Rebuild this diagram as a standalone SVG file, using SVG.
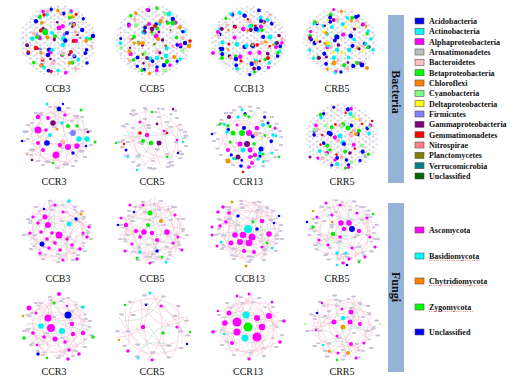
<svg xmlns="http://www.w3.org/2000/svg" xmlns:xlink="http://www.w3.org/1999/xlink" width="522" height="383" viewBox="0 0 522 383">
<style>
.lbl{font-family:"Liberation Serif",serif;font-size:10px;fill:#111;text-anchor:middle}
.lg{font-family:"Liberation Serif",serif;font-size:8px;font-weight:bold;fill:#111}
.bt{font-family:"Liberation Serif",serif;font-size:12px;font-weight:bold;fill:#111;text-anchor:middle}
.bar{fill:#95b3d7}
.sw{stroke:#555;stroke-width:0.6}
.ep{fill:none;stroke:#f5b5c8;stroke-width:0.5;opacity:.85}
.eg{fill:none;stroke:#a6d8c0;stroke-width:0.5;opacity:.85}
.sq{fill:none;stroke:#e03030;stroke-width:0.5;stroke-dasharray:1 0.8}
.b{fill:#0000ff}.c{fill:#00f0f0}.m{fill:#ff00ff}.g{fill:#00ee00}.o{fill:#f09a00}.p{fill:#800080}.r{fill:#ff0000}.k{fill:#ffb3b3}.y{fill:#ffff00}.f{fill:#8080ff}.l{fill:#80ff80}
</style>
<defs>
<pattern id="pA" width="7" height="5.2" patternUnits="userSpaceOnUse"><ellipse cx="2" cy="1.4" rx="1.4" ry="0.95" fill="#d3c8de"/><ellipse cx="5.5" cy="4" rx="1.3" ry="0.9" fill="#c6e2dc"/></pattern>
<pattern id="pB" width="9.4" height="6.6" patternUnits="userSpaceOnUse"><ellipse cx="7.5" cy="2.5" rx="1.3" ry="0.9" fill="#ecc9cf"/><ellipse cx="3" cy="5.6" rx="1.2" ry="0.85" fill="#cfd3ec"/></pattern>
<g id="s1"><circle cx="-20" cy="-18" r="2"/><circle cx="5" cy="-25" r="1.8"/><circle cx="22" cy="-10" r="2"/><circle cx="-28" cy="4" r="1.6"/><circle cx="-8" cy="8" r="2.2"/><circle cx="15" cy="14" r="1.8"/><circle cx="-15" cy="22" r="1.7"/><circle cx="26" cy="8" r="1.6"/></g>
<g id="s2"><circle cx="-10" cy="-27" r="1.7"/><circle cx="17" cy="-20" r="2"/><circle cx="-24" cy="-10" r="1.8"/><circle cx="2" cy="-5" r="2.3"/><circle cx="25" cy="-1" r="1.8"/><circle cx="-18" cy="15" r="2"/><circle cx="8" cy="26" r="1.7"/><circle cx="19" cy="19" r="1.6"/></g>
<g id="s3"><circle cx="-3" cy="-16" r="2"/><circle cx="12" cy="-6" r="1.8"/><circle cx="-14" cy="-2" r="1.9"/><circle cx="-29" cy="-7" r="1.5"/><circle cx="0" cy="17" r="2"/><circle cx="-24" cy="18" r="1.6"/><circle cx="27" cy="-12" r="1.7"/><circle cx="11" cy="5" r="2.1"/></g>
<g id="s4"><circle cx="-16" cy="-22" r="1.8"/><circle cx="21" cy="-19" r="1.7"/><circle cx="-6" cy="-3" r="2"/><circle cx="6" cy="12" r="1.9"/><circle cx="-30" cy="6" r="1.5"/><circle cx="-9" cy="28" r="1.6"/><circle cx="29" cy="4" r="1.7"/><circle cx="-20" cy="6" r="2"/></g>
<g id="s5"><circle cx="-19" cy="-14" r="1.8"/><circle cx="14" cy="-26" r="1.6"/><circle cx="-3" cy="24" r="1.9"/><circle cx="19" cy="-3" r="2"/><circle cx="-27" cy="12" r="1.6"/><circle cx="4" cy="3" r="1.9"/><circle cx="23" cy="15" r="1.8"/><circle cx="-8" cy="-10" r="1.9"/></g>
<g id="s6"><circle cx="-12" cy="-20" r="1.7"/><circle cx="0" cy="-30" r="1.5"/><circle cx="-25" cy="-16" r="1.6"/><circle cx="15" cy="-12" r="1.8"/><circle cx="-5" cy="14" r="1.9"/><circle cx="18" cy="25" r="1.5"/><circle cx="-14" cy="8" r="1.8"/><circle cx="28" cy="-4" r="1.6"/></g>
<g id="s7"><circle cx="7" cy="-21" r="1.7"/><circle cx="-27" cy="-2" r="1.8"/><circle cx="24" cy="-14" r="1.6"/><circle cx="-12" cy="19" r="1.7"/><circle cx="13" cy="22" r="1.8"/><circle cx="-2" cy="-10" r="1.9"/><circle cx="20" cy="5" r="1.7"/><circle cx="-17" cy="-8" r="1.6"/></g>
<g id="s8"><circle cx="-6" cy="-24" r="1.6"/><circle cx="12" cy="-13" r="1.7"/><circle cx="-18" cy="-22" r="1.6"/><circle cx="-23" cy="1" r="1.7"/><circle cx="8" cy="9" r="1.8"/><circle cx="-8" cy="20" r="1.6"/><circle cx="24" cy="18" r="1.6"/><circle cx="30" cy="-6" r="1.5"/></g>
<g id="p1" fill="#cbbfd9"><ellipse cx="-30" cy="-12" rx="2.4" ry="1.1"/><ellipse cx="-22" cy="-24" rx="2.4" ry="1.1"/><ellipse cx="-8" cy="-30" rx="2.4" ry="1.1"/><ellipse cx="10" cy="-29" rx="2.4" ry="1.1"/><ellipse cx="24" cy="-20" rx="2.4" ry="1.1"/><ellipse cx="32" cy="-6" rx="2.4" ry="1.1"/><ellipse cx="33" cy="8" rx="2.4" ry="1.1"/><ellipse cx="27" cy="20" rx="2.4" ry="1.1"/><ellipse cx="15" cy="29" rx="2.4" ry="1.1"/><ellipse cx="0" cy="31" rx="2.4" ry="1.1"/><ellipse cx="-15" cy="28" rx="2.4" ry="1.1"/><ellipse cx="-27" cy="18" rx="2.4" ry="1.1"/><ellipse cx="-34" cy="4" rx="2.4" ry="1.1"/></g>
<g id="p2" fill="#cbbfd9"><ellipse cx="-20" cy="-10" rx="2.4" ry="1.1"/><ellipse cx="-8" cy="-19" rx="2.4" ry="1.1"/><ellipse cx="6" cy="-21" rx="2.4" ry="1.1"/><ellipse cx="18" cy="-11" rx="2.4" ry="1.1"/><ellipse cx="23" cy="4" rx="2.4" ry="1.1"/><ellipse cx="14" cy="16" rx="2.4" ry="1.1"/><ellipse cx="0" cy="23" rx="2.4" ry="1.1"/><ellipse cx="-14" cy="17" rx="2.4" ry="1.1"/><ellipse cx="-25" cy="4" rx="2.4" ry="1.1"/></g>
<g id="p3" fill="#c9c6d6"><ellipse cx="-12" cy="-4" rx="2.4" ry="1.1"/><ellipse cx="4" cy="-10" rx="2.4" ry="1.1"/><ellipse cx="11" cy="6" rx="2.4" ry="1.1"/><ellipse cx="-4" cy="11" rx="2.4" ry="1.1"/><ellipse cx="-28" cy="-8" rx="2.4" ry="1.1"/><ellipse cx="-3" cy="-26" rx="2.4" ry="1.1"/><ellipse cx="20" cy="24" rx="2.4" ry="1.1"/><ellipse cx="26" cy="-14" rx="2.4" ry="1.1"/><ellipse cx="-18" cy="24" rx="2.4" ry="1.1"/><ellipse cx="30" cy="2" rx="2.4" ry="1.1"/><ellipse cx="-14" cy="-16" rx="2.4" ry="1.1"/><ellipse cx="17" cy="-24" rx="2.4" ry="1.1"/></g>
<g id="p4" fill="#d0c4dc"><ellipse cx="-35" cy="-4" rx="2.4" ry="1.1"/><ellipse cx="-28" cy="-18" rx="2.4" ry="1.1"/><ellipse cx="-15" cy="-28" rx="2.4" ry="1.1"/><ellipse cx="2" cy="-32" rx="2.4" ry="1.1"/><ellipse cx="18" cy="-26" rx="2.4" ry="1.1"/><ellipse cx="30" cy="-14" rx="2.4" ry="1.1"/><ellipse cx="35" cy="0" rx="2.4" ry="1.1"/><ellipse cx="30" cy="14" rx="2.4" ry="1.1"/><ellipse cx="20" cy="25" rx="2.4" ry="1.1"/><ellipse cx="6" cy="31" rx="2.4" ry="1.1"/><ellipse cx="-8" cy="30" rx="2.4" ry="1.1"/><ellipse cx="-22" cy="24" rx="2.4" ry="1.1"/><ellipse cx="-32" cy="12" rx="2.4" ry="1.1"/></g>
<g id="e1" class="ep"><path d="M-30,-10Q0,-40 28,-12"/><path d="M-25,15Q-5,-5 20,20"/><path d="M-10,-28Q20,0 5,30"/><path d="M-32,2Q-10,20 10,28"/><path d="M15,-25Q30,5 25,20"/><path d="M-20,-20Q0,10 -28,20"/><path d="M0,-20Q25,-15 30,5"/><path d="M-15,5Q5,25 25,5"/></g>
<g id="e2" class="eg"><path d="M-28,-15Q-5,0 -10,25"/><path d="M10,-28Q-10,-10 15,10"/><path d="M20,-15Q5,15 28,18"/><path d="M-5,5Q15,-5 30,-8"/></g>
</defs>
<rect width="522" height="383" fill="#ffffff"/>

<!-- Row 1: bacteria CC B -->
<g id="bac-CCB3">
<ellipse cx="58" cy="41" rx="38" ry="36" fill="url(#pA)"/><ellipse cx="58" cy="41" rx="37" ry="35" fill="url(#pB)"/>
<use href="#s1" fill="#0000ff" transform="translate(58,41) scale(1.1)"/>
<use href="#s2" fill="#00f0f0" transform="translate(58,41) rotate(45) scale(1.1)"/>
<use href="#s3" fill="#ff00ff" transform="translate(58,41) rotate(100) scale(1.1)"/>
<use href="#s4" fill="#0000ff" transform="translate(58,41) rotate(150) scale(1.1)"/>
<use href="#s5" fill="#00ee00" transform="translate(58,41) rotate(200) scale(1.1)"/>
<use href="#s6" fill="#ff0000" transform="translate(58,41) rotate(250) scale(1.05)"/>
<use href="#s7" fill="#f09a00" transform="translate(58,41) rotate(300) scale(1.1)"/>
<use href="#s8" fill="#ffb3b3" transform="translate(58,41) rotate(20) scale(1.1)"/>
<use href="#s1" fill="#8080ff" transform="translate(58,41) rotate(180) scale(0.8)"/>
<use href="#s2" fill="#800080" transform="translate(58,41) rotate(270) scale(0.75)"/>
<circle class="g" cx="45" cy="32" r="3"/><circle class="m" cx="59" cy="28" r="2.4"/><circle class="b" cx="67" cy="33" r="2"/><circle class="c" cx="52" cy="33" r="2"/><circle class="c" cx="63" cy="45" r="2.4"/><circle class="r" cx="36" cy="48" r="2.3"/><circle class="c" cx="52" cy="50" r="2"/><circle class="p" cx="27" cy="45" r="1.8"/><circle class="b" cx="48" cy="55" r="2.3"/><circle class="k" cx="53" cy="63" r="2.3"/><circle class="b" cx="93" cy="36" r="2.2"/><circle class="b" cx="87" cy="63" r="1.8"/><circle class="y" cx="70" cy="15" r="1.6"/><circle class="o" cx="73" cy="17" r="1.8"/>
</g>
<g id="bac-CCB5">
<ellipse cx="153" cy="41" rx="38" ry="36" fill="url(#pA)"/><ellipse cx="153" cy="41" rx="37" ry="35" fill="url(#pB)"/>
<use href="#s1" fill="#0000ff" transform="translate(153,41) rotate(90) scale(1.1)"/>
<use href="#s2" fill="#ff00ff" transform="translate(153,41) rotate(10) scale(1.1)"/>
<use href="#s3" fill="#00f0f0" transform="translate(153,41) rotate(200) scale(1.1)"/>
<use href="#s4" fill="#80ff80" transform="translate(153,41) rotate(60) scale(1.1)"/>
<use href="#s5" fill="#f09a00" transform="translate(153,41) rotate(300) scale(1.1)"/>
<use href="#s6" fill="#0000ff" transform="translate(153,41) rotate(130) scale(1.05)"/>
<use href="#s7" fill="#ffb3b3" transform="translate(153,41) rotate(170) scale(1.1)"/>
<use href="#s8" fill="#00ee00" transform="translate(153,41) rotate(240) scale(1.1)"/>
<use href="#s3" fill="#800080" transform="translate(153,41) rotate(330) scale(0.8)"/>
<use href="#s5" fill="#808000" transform="translate(153,41) rotate(30) scale(0.7)"/>
<circle class="c" cx="169" cy="14" r="2.4"/><circle class="g" cx="173" cy="23" r="2.4"/><circle class="g" cx="168" cy="23" r="2"/><circle class="p" cx="152" cy="29" r="2.4"/><circle class="m" cx="149" cy="24" r="2"/><circle class="r" cx="155" cy="26" r="1.9"/><circle class="o" cx="143" cy="43" r="2"/><circle class="o" cx="134" cy="43" r="1.8"/><circle class="o" cx="189" cy="46" r="2.4"/><circle class="b" cx="185" cy="43" r="2.2"/><circle class="r" cx="190" cy="41" r="1.8"/><circle class="c" cx="157" cy="58" r="2.2"/><circle class="c" cx="166" cy="56" r="2.4"/><circle class="g" cx="167" cy="61" r="2"/><circle class="p" cx="147" cy="58" r="1.9"/><circle class="b" cx="157" cy="67" r="1.8"/>
</g>
<g id="bac-CCB13">
<ellipse cx="249" cy="41" rx="38" ry="35" fill="url(#pA)"/><ellipse cx="249" cy="41" rx="37" ry="34" fill="url(#pB)"/>
<use href="#s1" fill="#00f0f0" transform="translate(249,41) rotate(30) scale(1.1)"/>
<use href="#s2" fill="#0000ff" transform="translate(249,41) rotate(120) scale(1.1)"/>
<use href="#s3" fill="#ff00ff" transform="translate(249,41) rotate(220) scale(1.1)"/>
<use href="#s4" fill="#0000ff" transform="translate(249,41) rotate(280) scale(1.1)"/>
<use href="#s5" fill="#00f0f0" transform="translate(249,41) rotate(80) scale(1.1)"/>
<use href="#s6" fill="#00ee00" transform="translate(249,41) rotate(170) scale(1.05)"/>
<use href="#s7" fill="#800080" transform="translate(249,41) rotate(20) scale(1.1)"/>
<use href="#s8" fill="#ffb3b3" transform="translate(249,41) rotate(320) scale(1.1)"/>
<use href="#s1" fill="#ff0000" transform="translate(249,41) rotate(250) scale(0.8)"/>
<use href="#s4" fill="#f09a00" transform="translate(249,41) rotate(200) scale(0.8)"/>
<circle class="b" cx="256" cy="29" r="2.5"/><circle class="c" cx="270" cy="37" r="2.5"/><circle class="b" cx="261" cy="21" r="2"/><circle class="c" cx="250" cy="26" r="2"/><circle class="g" cx="222" cy="58" r="2"/><circle class="m" cx="213" cy="53" r="2"/><circle class="b" cx="236" cy="59" r="2.3"/><circle class="m" cx="250" cy="53" r="2"/><circle class="r" cx="268" cy="58" r="2"/><circle class="p" cx="277" cy="43" r="2"/><circle class="b" cx="222" cy="49" r="2.3"/><circle class="m" cx="276" cy="47" r="2"/>
</g>
<g id="bac-CRB5">
<ellipse cx="340" cy="41" rx="37" ry="33" fill="url(#pA)"/><ellipse cx="340" cy="41" rx="36" ry="32" fill="url(#pB)"/>
<use href="#s1" fill="#0000ff" transform="translate(340,41) rotate(200) scale(1.05)"/>
<use href="#s2" fill="#00ee00" transform="translate(340,41) rotate(300) scale(1.05)"/>
<use href="#s3" fill="#00f0f0" transform="translate(340,41) rotate(20) scale(1.05)"/>
<use href="#s4" fill="#ff00ff" transform="translate(340,41) rotate(90) scale(1.05)"/>
<use href="#s5" fill="#0000ff" transform="translate(340,41) rotate(150) scale(1.05)"/>
<use href="#s6" fill="#f09a00" transform="translate(340,41) rotate(60)"/>
<use href="#s7" fill="#ffb3b3" transform="translate(340,41) rotate(250) scale(1.05)"/>
<use href="#s8" fill="#00f0f0" transform="translate(340,41) rotate(110) scale(1.05)"/>
<use href="#s2" fill="#800080" transform="translate(340,41) rotate(180) scale(0.8)"/>
<use href="#s6" fill="#ffff00" transform="translate(340,41) rotate(330) scale(0.8)"/>
<circle class="b" cx="337" cy="37" r="2.5"/><circle class="c" cx="332" cy="27" r="2"/><circle class="b" cx="356" cy="17" r="2"/><circle class="g" cx="315" cy="22" r="1.8"/><circle class="p" cx="310" cy="38" r="2"/><circle class="y" cx="328" cy="43" r="2"/><circle class="o" cx="334" cy="63" r="2.4"/><circle class="b" cx="362" cy="65" r="2.4"/><circle class="o" cx="367" cy="68" r="2"/><circle class="p" cx="319" cy="58" r="2"/><circle class="c" cx="337" cy="50" r="2.2"/><circle class="g" cx="357" cy="63" r="2"/><circle class="c" cx="373" cy="50" r="1.8"/>
</g>

<!-- Row 2: bacteria CC R -->
<g id="bac-CCR3">
<use href="#e1" transform="translate(58,137)"/><use href="#e1" transform="translate(58,137) rotate(120)"/><use href="#e1" transform="translate(58,137) rotate(240)"/><use href="#e2" transform="translate(58,137) rotate(60)"/>
<use href="#p1" transform="translate(58,137)"/><use href="#p3" transform="translate(58,137) scale(-1,1)"/><use href="#p2" transform="translate(58,137) scale(1.3,-1.3)"/>
<circle class="m" cx="38" cy="130" r="3.5"/><circle class="m" cx="56" cy="155" r="3.5"/><circle class="m" cx="68" cy="147" r="3"/><circle class="m" cx="77" cy="146" r="2.7"/><circle class="m" cx="38" cy="117" r="2.3"/><circle class="m" cx="48" cy="118" r="2"/><circle class="m" cx="65" cy="115" r="1.8"/><circle class="m" cx="38" cy="143" r="2"/><circle class="m" cx="43" cy="150" r="2"/><circle class="m" cx="60" cy="145" r="2.2"/><circle class="m" cx="46" cy="130" r="1.8"/>
<circle class="p" cx="53" cy="123" r="2.8"/><circle class="b" cx="47" cy="143" r="2.8"/><circle class="b" cx="59" cy="109" r="2.3"/><circle class="b" cx="73" cy="153" r="1.8"/><circle class="b" cx="22" cy="141" r="1.3"/><circle class="b" cx="63" cy="104" r="1.2"/><circle class="f" cx="73" cy="133" r="3"/><circle class="c" cx="79" cy="139" r="2.8"/><circle class="c" cx="87" cy="139" r="2.8"/><circle class="c" cx="50" cy="135" r="2"/><circle class="c" cx="62" cy="123" r="1.8"/><circle class="c" cx="47" cy="104" r="1.5"/><circle class="k" cx="63" cy="142" r="2.5"/><circle class="k" cx="27" cy="154" r="1.8"/><circle class="o" cx="57" cy="129" r="1.5"/><circle class="g" cx="68" cy="126" r="2"/><circle class="g" cx="81" cy="110" r="1.5"/><circle class="g" cx="77" cy="126" r="1.8"/><circle class="g" cx="95" cy="142" r="1.5"/><circle class="g" cx="53" cy="163" r="1.3"/><circle class="b" cx="86" cy="146" r="1.3"/><circle class="p" cx="32" cy="160" r="1.3"/><circle class="p" cx="88" cy="132" r="1.3"/>
</g>
<g id="bac-CCR5">
<use href="#e1" transform="translate(153,138) rotate(30)"/><use href="#e2" transform="translate(153,138) rotate(200)"/><use href="#e1" transform="translate(153,138) rotate(190) scale(0.8)"/>
<use href="#p1" transform="translate(153,138)"/><use href="#p2" transform="translate(153,138)"/><use href="#p3" transform="translate(153,138) scale(-1,1)"/><use href="#p4" transform="translate(153,138) scale(0.9,-0.95)"/><use href="#p3" transform="translate(153,138) scale(1.1,-1.15)"/>
<circle class="m" cx="147" cy="135" r="2.2"/><circle class="g" cx="143" cy="141" r="2"/><circle class="g" cx="151" cy="143" r="2.3"/><circle class="p" cx="159" cy="143" r="2.5"/><circle class="r" cx="140" cy="133" r="1.8"/><circle class="r" cx="124" cy="144" r="1.2"/><circle class="b" cx="126" cy="150" r="1.5"/><circle class="b" cx="178" cy="153" r="1.2"/><circle class="m" cx="140" cy="122" r="1.5"/><circle class="m" cx="164" cy="131" r="1.3"/><circle class="m" cx="177" cy="140" r="1.3"/><circle class="p" cx="157" cy="124" r="1.4"/><circle class="p" cx="173" cy="109" r="1.2"/><circle class="g" cx="152" cy="112" r="1.3"/><circle class="g" cx="116" cy="143" r="1.3"/><circle class="g" cx="167" cy="157" r="1.3"/><circle class="c" cx="137" cy="170" r="1.3"/><circle class="c" cx="183" cy="142" r="1.3"/><circle class="c" cx="128" cy="157" r="1.3"/><circle class="r" cx="167" cy="133" r="1.2"/>
</g>
<g id="bac-CCR13">
<use href="#e1" transform="translate(248,137) rotate(90)"/><use href="#e2" transform="translate(248,137)"/><use href="#e1" transform="translate(248,137) rotate(210) scale(0.9)"/>
<use href="#p1" transform="translate(248,137)"/><use href="#p3" transform="translate(248,137) scale(-1,1)"/><use href="#p4" transform="translate(248,137) scale(0.95)"/>
<use href="#s2" fill="#0000ff" transform="translate(248,137) rotate(60) scale(0.9)"/><use href="#s7" fill="#00ee00" transform="translate(248,137) rotate(150) scale(0.9)"/><use href="#s4" fill="#00f0f0" transform="translate(248,137) rotate(250) scale(0.95)"/>
<circle class="g" cx="242" cy="133" r="3"/><circle class="g" cx="233" cy="133" r="2.5"/><circle class="m" cx="249" cy="133" r="3"/><circle class="p" cx="247" cy="144" r="3"/><circle class="m" cx="240" cy="144" r="2.5"/><circle class="c" cx="243" cy="150" r="2.5"/><circle class="m" cx="250" cy="150" r="2.5"/><circle class="b" cx="261" cy="149" r="2.5"/><circle class="k" cx="256" cy="134" r="2.5"/><circle class="m" cx="257" cy="128" r="2.3"/><circle class="p" cx="229" cy="117" r="2"/><circle class="c" cx="238" cy="117" r="1.8"/><circle class="g" cx="245" cy="115" r="1.5"/><circle class="c" cx="263" cy="125" r="2"/><circle class="b" cx="268" cy="123" r="1.5"/><circle class="b" cx="244" cy="128" r="2"/><circle class="c" cx="227" cy="132" r="1.8"/><circle class="g" cx="220" cy="124" r="1.5"/><circle class="b" cx="212" cy="134" r="1.3"/><circle class="m" cx="228" cy="150" r="2"/><circle class="p" cx="238" cy="157" r="2.5"/><circle class="o" cx="228" cy="161" r="2.5"/><circle class="m" cx="250" cy="157" r="2"/><circle class="m" cx="252" cy="163" r="2"/><circle class="c" cx="258" cy="159" r="1.8"/><circle class="g" cx="263" cy="154" r="1.5"/><circle class="c" cx="272" cy="153" r="1.5"/><circle class="g" cx="279" cy="157" r="1.3"/><circle class="c" cx="273" cy="135" r="1.8"/><circle class="b" cx="241" cy="166" r="1.8"/><circle class="m" cx="249" cy="167" r="1.8"/><circle class="r" cx="243" cy="172" r="1.3"/><circle class="m" cx="275" cy="128" r="1.5"/><circle class="m" cx="237" cy="125" r="1.5"/><circle class="m" cx="255" cy="155" r="2.3"/>
</g>
<g id="bac-CRR5">
<ellipse cx="342" cy="137" rx="37" ry="34" fill="url(#pA)"/><ellipse cx="342" cy="137" rx="35" ry="32" fill="url(#pB)" opacity="0.7"/>
<use href="#e1" transform="translate(342,137) rotate(45)" opacity="0.6"/>
<use href="#s1" fill="#0000ff" transform="translate(342,137) rotate(60) scale(1.05)"/>
<use href="#s2" fill="#00f0f0" transform="translate(342,137) rotate(150) scale(1.05)"/>
<use href="#s3" fill="#00ee00" transform="translate(342,137) rotate(250) scale(1.05)"/>
<use href="#s4" fill="#ff00ff" transform="translate(342,137) rotate(330) scale(1.05)"/>
<use href="#s5" fill="#ffb3b3" transform="translate(342,137) rotate(100) scale(1.05)"/>
<use href="#s6" fill="#0000ff" transform="translate(342,137) rotate(200)"/>
<use href="#s7" fill="#80ff80" transform="translate(342,137) rotate(10) scale(1.05)"/>
<use href="#s8" fill="#ff0000" transform="translate(342,137) rotate(290) scale(0.8)"/>
<circle class="g" cx="348" cy="128" r="2.5"/><circle class="k" cx="351" cy="135" r="2.5"/><circle class="c" cx="340" cy="136" r="2.5"/><circle class="b" cx="329" cy="133" r="2.3"/><circle class="o" cx="356" cy="134" r="2"/><circle class="b" cx="344" cy="144" r="2"/><circle class="g" cx="330" cy="150" r="1.8"/><circle class="k" cx="340" cy="125" r="2"/><circle class="p" cx="350" cy="153" r="1.8"/><circle class="m" cx="335" cy="160" r="1.8"/><circle class="y" cx="356" cy="119" r="1.5"/><circle class="r" cx="372" cy="121" r="1.3"/><circle class="p" cx="310" cy="157" r="1.5"/>
</g>

<!-- Row 3: fungi CC B -->
<g id="fun-CCB3">
<use href="#e1" transform="translate(58,231)"/><use href="#e1" transform="translate(58,231) rotate(90)"/><use href="#e1" transform="translate(58,231) rotate(180)"/><use href="#e1" transform="translate(58,231) rotate(270)"/><use href="#e2" transform="translate(58,231) rotate(45)"/><use href="#e2" transform="translate(58,231) rotate(225)"/>
<use href="#p1" transform="translate(58,231)"/><use href="#p2" transform="translate(58,231) scale(-1,1)"/><use href="#p3" transform="translate(58,231)"/><use href="#p4" transform="translate(58,231) scale(0.85,-0.85)"/>
<circle class="m" cx="45" cy="217" r="2.5"/><circle class="m" cx="48" cy="225" r="3"/><circle class="m" cx="59" cy="235" r="3.5"/><circle class="b" cx="42" cy="244" r="2.5"/><circle class="c" cx="69" cy="224" r="2.5"/><circle class="b" cx="76" cy="219" r="1.7"/><circle class="c" cx="69" cy="201" r="1.7"/><circle class="o" cx="81" cy="214" r="1.5"/><circle class="b" cx="44" cy="209" r="1.3"/>
<circle class="m" cx="38" cy="223" r="1.8"/><circle class="m" cx="41" cy="232" r="1.8"/><circle class="m" cx="52" cy="233" r="1.8"/><circle class="m" cx="47" cy="239" r="1.8"/><circle class="m" cx="55" cy="243" r="1.8"/><circle class="m" cx="67" cy="239" r="1.8"/><circle class="m" cx="72" cy="245" r="1.8"/><circle class="m" cx="80" cy="249" r="1.8"/><circle class="m" cx="87" cy="237" r="1.8"/><circle class="m" cx="89" cy="227" r="1.6"/><circle class="m" cx="49" cy="248" r="1.8"/><circle class="m" cx="60" cy="250" r="1.8"/><circle class="m" cx="77" cy="259" r="1.8"/><circle class="m" cx="63" cy="260" r="1.6"/><circle class="m" cx="40" cy="253" r="1.6"/><circle class="m" cx="33" cy="217" r="1.6"/><circle class="m" cx="30" cy="233" r="1.6"/><circle class="m" cx="55" cy="205" r="1.6"/><circle class="m" cx="63" cy="212" r="1.6"/><circle class="m" cx="83" cy="233" r="1.6"/>
</g>
<g id="fun-CCB5">
<use href="#e1" transform="translate(153,231) rotate(30)"/><use href="#e1" transform="translate(153,231) rotate(130)"/><use href="#e1" transform="translate(153,231) rotate(230)"/><use href="#e1" transform="translate(153,231) rotate(320)"/><use href="#e2" transform="translate(153,231) rotate(100)"/><use href="#e2" transform="translate(153,231) rotate(280)"/>
<use href="#p1" transform="translate(153,231) scale(-1,1)"/><use href="#p2" transform="translate(153,231)"/><use href="#p3" transform="translate(153,231) scale(1,-1)"/><use href="#p4" transform="translate(153,231) scale(0.85)"/>
<circle class="g" cx="150" cy="213" r="2.5"/><circle class="g" cx="148" cy="225" r="2"/><circle class="o" cx="161" cy="221" r="2"/><circle class="m" cx="144" cy="232" r="2.8"/><circle class="m" cx="152" cy="233" r="2.3"/><circle class="m" cx="167" cy="232" r="2.8"/><circle class="m" cx="126" cy="225" r="2.2"/><circle class="m" cx="136" cy="231" r="2"/><circle class="m" cx="157" cy="240" r="2"/><circle class="m" cx="140" cy="237" r="1.8"/><circle class="m" cx="121" cy="218" r="1.6"/><circle class="m" cx="175" cy="215" r="1.6"/>
<circle class="b" cx="118" cy="225" r="1.3"/><circle class="b" cx="134" cy="212" r="1.3"/><circle class="b" cx="157" cy="251" r="1.8"/><circle class="c" cx="140" cy="252" r="1.8"/><circle class="c" cx="166" cy="262" r="1.5"/><circle class="g" cx="137" cy="258" r="1.5"/><circle class="g" cx="162" cy="257" r="1.5"/>
<circle class="m" cx="125" cy="251" r="1.6"/><circle class="m" cx="132" cy="244" r="1.6"/><circle class="m" cx="173" cy="243" r="1.6"/><circle class="m" cx="178" cy="237" r="1.6"/><circle class="m" cx="182" cy="250" r="1.6"/><circle class="m" cx="150" cy="263" r="1.6"/><circle class="m" cx="143" cy="205" r="1.6"/><circle class="m" cx="130" cy="205" r="1.6"/>
</g>
<g id="fun-CCB13">
<use href="#e1" transform="translate(249,231) rotate(60)"/><use href="#e1" transform="translate(249,231) rotate(150)"/><use href="#e1" transform="translate(249,231) rotate(250)"/><use href="#e1" transform="translate(249,231) rotate(340)"/><use href="#e2" transform="translate(249,231) rotate(10)"/><use href="#e2" transform="translate(249,231) rotate(190)"/>
<use href="#p1" transform="translate(249,231)"/><use href="#p2" transform="translate(249,231) scale(-1.1,1.1)"/><use href="#p3" transform="translate(249,231) scale(-1,-1)"/><use href="#p4" transform="translate(249,231) scale(0.9,-0.9)"/>
<circle class="c" cx="248" cy="229" r="4"/><circle class="m" cx="243" cy="235" r="3.3"/><circle class="m" cx="252" cy="237" r="3.5"/><circle class="m" cx="249" cy="243" r="3.3"/><circle class="m" cx="240" cy="242" r="3"/><circle class="m" cx="235" cy="235" r="2.8"/><circle class="m" cx="231" cy="243" r="2.5"/><circle class="m" cx="262" cy="221" r="2.3"/><circle class="m" cx="269" cy="234" r="2.8"/><circle class="m" cx="254" cy="252" r="2"/><circle class="m" cx="244" cy="251" r="2"/>
<circle class="m" cx="223" cy="207" r="1.8"/><circle class="m" cx="218" cy="212" r="1.8"/><circle class="m" cx="229" cy="213" r="1.8"/><circle class="m" cx="226" cy="222" r="1.8"/><circle class="m" cx="220" cy="226" r="1.8"/><circle class="m" cx="212" cy="227" r="1.5"/><circle class="m" cx="212" cy="235" r="1.5"/><circle class="m" cx="217" cy="246" r="1.5"/><circle class="m" cx="262" cy="247" r="1.5"/>
<circle class="b" cx="238" cy="216" r="1.8"/><circle class="b" cx="257" cy="229" r="1.8"/><circle class="b" cx="274" cy="223" r="1.3"/><circle class="b" cx="279" cy="216" r="1.3"/><circle class="g" cx="253" cy="222" r="1.5"/><circle class="g" cx="267" cy="243" r="1.5"/><circle class="c" cx="221" cy="242" r="1.5"/><circle class="c" cx="272" cy="248" r="1.3"/><circle class="o" cx="232" cy="202" r="1.5"/><circle class="o" cx="246" cy="266" r="1.5"/>
</g>
<g id="fun-CRB5">
<use href="#e1" transform="translate(344,231) rotate(15)"/><use href="#e1" transform="translate(344,231) rotate(105)"/><use href="#e1" transform="translate(344,231) rotate(200)" opacity="0.7"/><use href="#e2" transform="translate(344,231) rotate(300)"/><use href="#e2" transform="translate(344,231) rotate(120)"/>
<use href="#p1" transform="translate(344,231) scale(1.02)"/><use href="#p2" transform="translate(344,231)"/><use href="#p3" transform="translate(344,231)"/><use href="#p4" transform="translate(344,231) scale(-0.85,0.9)"/><use href="#p3" transform="translate(344,231) scale(-1.1,-1)"/>
<circle class="b" cx="352" cy="229" r="3"/><circle class="m" cx="341" cy="223" r="2.8"/><circle class="m" cx="349" cy="223" r="2.8"/><circle class="m" cx="344" cy="229" r="2.2"/><circle class="m" cx="359" cy="231" r="2.2"/><circle class="m" cx="340" cy="237" r="1.8"/><circle class="g" cx="333" cy="234" r="2.2"/><circle class="g" cx="313" cy="227" r="1.8"/><circle class="g" cx="373" cy="214" r="1.3"/><circle class="g" cx="359" cy="262" r="1.3"/><circle class="b" cx="307" cy="222" r="1.3"/><circle class="b" cx="347" cy="265" r="1.3"/><circle class="c" cx="337" cy="253" r="1.8"/><circle class="c" cx="346" cy="253" r="1.5"/><circle class="c" cx="337" cy="265" r="1.3"/><circle class="o" cx="313" cy="211" r="1.3"/><circle class="o" cx="332" cy="222" r="1.3"/>
<circle class="m" cx="326" cy="203" r="1.6"/><circle class="m" cx="340" cy="205" r="1.6"/><circle class="m" cx="317" cy="217" r="1.6"/><circle class="m" cx="332" cy="215" r="1.6"/><circle class="m" cx="357" cy="213" r="1.6"/><circle class="m" cx="367" cy="218" r="1.6"/><circle class="m" cx="370" cy="237" r="1.6"/><circle class="m" cx="375" cy="247" r="1.6"/><circle class="m" cx="365" cy="257" r="1.6"/><circle class="m" cx="352" cy="248" r="1.6"/><circle class="m" cx="328" cy="245" r="1.6"/><circle class="m" cx="319" cy="240" r="1.6"/><circle class="m" cx="349" cy="259" r="1.6"/><circle class="m" cx="343" cy="263" r="1.6"/>
</g>

<!-- Row 4: fungi CC R -->
<g id="fun-CCR3">
<use href="#e1" transform="translate(58,327)"/><use href="#e1" transform="translate(58,327) rotate(90)"/><use href="#e1" transform="translate(58,327) rotate(180)"/><use href="#e1" transform="translate(58,327) rotate(270)"/><use href="#e2" transform="translate(58,327) rotate(150)"/><use href="#e2" transform="translate(58,327) rotate(330)"/>
<use href="#p1" transform="translate(58,327)"/><use href="#p3" transform="translate(58,327) scale(-1,1)"/><use href="#p4" transform="translate(58,327) scale(0.9,-0.9)"/>
<circle class="m" cx="51" cy="328" r="4"/><circle class="m" cx="48" cy="318" r="3.5"/><circle class="b" cx="68" cy="315" r="3.5"/><circle class="c" cx="62" cy="331" r="3"/><circle class="c" cx="41" cy="326" r="2.8"/><circle class="m" cx="29" cy="308" r="2.5"/><circle class="m" cx="59" cy="294" r="2"/><circle class="m" cx="55" cy="339" r="2.5"/><circle class="m" cx="72" cy="324" r="2.2"/><circle class="m" cx="73" cy="334" r="2.2"/><circle class="m" cx="83" cy="333" r="2.2"/><circle class="m" cx="65" cy="342" r="1.8"/><circle class="m" cx="69" cy="350" r="1.8"/><circle class="m" cx="79" cy="354" r="1.8"/><circle class="m" cx="68" cy="359" r="1.8"/><circle class="m" cx="33" cy="333" r="1.8"/><circle class="m" cx="44" cy="337" r="1.8"/><circle class="m" cx="37" cy="345" r="1.3"/><circle class="m" cx="67" cy="306" r="1.3"/><circle class="m" cx="36" cy="313" r="1.5"/>
<circle class="g" cx="54" cy="303" r="1.5"/><circle class="g" cx="24" cy="338" r="1.8"/><circle class="g" cx="93" cy="337" r="1.8"/><circle class="g" cx="47" cy="358" r="1.3"/><circle class="b" cx="38" cy="354" r="1.8"/><circle class="c" cx="83" cy="307" r="1.8"/><circle class="o" cx="23" cy="316" r="1.3"/>
</g>
<g id="fun-CCR5">
<use href="#e1" transform="translate(153,327) rotate(20) scale(1.1)"/><use href="#e1" transform="translate(153,327) rotate(200) scale(1.05)"/><use href="#e2" transform="translate(153,327) rotate(80) scale(1.1)"/>
<use href="#p1" transform="translate(153,327) scale(1.05)"/><use href="#p2" transform="translate(153,327) scale(-1.1,1.1)"/>
<circle class="m" cx="143" cy="327" r="2.2"/><circle class="m" cx="128" cy="351" r="1.8"/><circle class="m" cx="152" cy="360" r="1.6"/><circle class="m" cx="161" cy="306" r="1.6"/><circle class="m" cx="177" cy="327" r="1.6"/><circle class="g" cx="163" cy="333" r="1.8"/><circle class="g" cx="125" cy="305" r="1.3"/><circle class="g" cx="190" cy="332" r="1.2"/><circle class="c" cx="150" cy="293" r="1.5"/><circle class="c" cx="138" cy="358" r="1.3"/><circle class="b" cx="146" cy="305" r="1.2"/><circle class="b" cx="187" cy="344" r="1.2"/><circle class="o" cx="119" cy="340" r="1.3"/>
</g>
<g id="fun-CCR13">
<use href="#e1" transform="translate(249,327) rotate(10)"/><use href="#e1" transform="translate(249,327) rotate(100)"/><use href="#e1" transform="translate(249,327) rotate(190)"/><use href="#e1" transform="translate(249,327) rotate(280)"/><use href="#e2" transform="translate(249,327) rotate(240)"/>
<use href="#p1" transform="translate(249,327)"/><use href="#p4" transform="translate(249,327) scale(0.8,-0.8)"/>
<circle class="g" cx="248" cy="327" r="4.5"/><circle class="m" cx="237" cy="322" r="4.5"/><circle class="m" cx="257" cy="337" r="4.5"/><circle class="c" cx="246" cy="315" r="3.5"/><circle class="c" cx="245" cy="338" r="3.5"/><circle class="m" cx="237" cy="332" r="3.5"/><circle class="m" cx="262" cy="327" r="3.3"/><circle class="m" cx="257" cy="318" r="3"/><circle class="m" cx="269" cy="316" r="3"/><circle class="m" cx="225" cy="323" r="2.8"/><circle class="m" cx="229" cy="313" r="2.5"/><circle class="m" cx="232" cy="343" r="2"/><circle class="m" cx="213" cy="332" r="1.8"/><circle class="m" cx="284" cy="321" r="1.8"/><circle class="m" cx="280" cy="342" r="1.8"/><circle class="m" cx="237" cy="296" r="1.5"/><circle class="m" cx="249" cy="294" r="1.5"/><circle class="m" cx="272" cy="302" r="1.5"/><circle class="m" cx="249" cy="359" r="1.5"/><circle class="m" cx="218" cy="311" r="1.3"/><circle class="c" cx="224" cy="334" r="1.3"/>
</g>
<g id="fun-CRR5">
<use href="#e1" transform="translate(343,327) rotate(40)"/><use href="#e1" transform="translate(343,327) rotate(160)"/><use href="#e1" transform="translate(343,327) rotate(280)" opacity="0.8"/><use href="#e2" transform="translate(343,327) rotate(90)"/><use href="#e2" transform="translate(343,327) rotate(330)"/>
<use href="#p1" transform="translate(343,327) scale(1.05)"/><use href="#p2" transform="translate(343,327) scale(-1,1)"/><use href="#p3" transform="translate(343,327)"/><use href="#p4" transform="translate(343,327) scale(0.88,-0.9)"/>
<circle class="m" cx="351" cy="312" r="2.5"/><circle class="m" cx="350" cy="322" r="2.5"/><circle class="m" cx="334" cy="322" r="2.5"/><circle class="m" cx="360" cy="324" r="2"/><circle class="m" cx="342" cy="309" r="1.5"/><circle class="m" cx="337" cy="336" r="1.5"/><circle class="m" cx="351" cy="344" r="2"/><circle class="m" cx="364" cy="343" r="1.5"/><circle class="m" cx="356" cy="358" r="1.5"/><circle class="m" cx="338" cy="353" r="1.5"/><circle class="m" cx="316" cy="330" r="1.3"/><circle class="m" cx="322" cy="303" r="1.3"/>
<circle class="c" cx="343" cy="318" r="2.2"/><circle class="c" cx="323" cy="345" r="1.3"/><circle class="o" cx="343" cy="327" r="2.5"/><circle class="o" cx="348" cy="353" r="2"/><circle class="o" cx="329" cy="351" r="1.5"/><circle class="g" cx="337" cy="360" r="1.3"/><circle class="b" cx="317" cy="313" r="1.3"/><circle class="l" cx="305" cy="324" r="1.1"/><circle class="l" cx="380" cy="324" r="1.1"/>
</g>

<!-- Network labels -->
<g id="labels">
<text class="lbl" x="58" y="92">CCB3</text><text class="lbl" x="152" y="92">CCB5</text><text class="lbl" x="249" y="92">CCB13</text><text class="lbl" x="337" y="92">CRB5</text>
<text class="lbl" x="54" y="185">CCR3</text><text class="lbl" x="152" y="185">CCR5</text><text class="lbl" x="248" y="185">CCR13</text><text class="lbl" x="342" y="185">CRR5</text>
<text class="lbl" x="58" y="282">CCB3</text><text class="lbl" x="152" y="282">CCB5</text><text class="lbl" x="250" y="282">CCB13</text><text class="lbl" x="337" y="282">CRB5</text>
<text class="lbl" x="54" y="375">CCR3</text><text class="lbl" x="152" y="375">CCR5</text><text class="lbl" x="248" y="375">CCR13</text><text class="lbl" x="342" y="375">CRR5</text>
</g>

<!-- Bacteria legend -->
<g id="legend-bacteria">
<rect class="bar" x="388" y="15" width="16" height="168"/>
<text class="bt" transform="translate(392,92) rotate(90)">Bacteria</text>
<rect class="sw" x="415" y="18" width="9" height="6" fill="#0000ff"/><text class="lg" x="429" y="24">Acidobacteria</text>
<rect class="sw" x="415" y="28.3" width="9" height="6" fill="#00ffff"/><text class="lg" x="429" y="34.3">Actinobacteria</text>
<rect class="sw" x="415" y="38.7" width="9" height="6" fill="#ff00ff"/><text class="lg" x="429" y="44.7">Alphaproteobacteria</text>
<rect class="sw" x="415" y="49" width="9" height="6" fill="#c0c0c0"/><text class="lg" x="429" y="55">Armatimonadetes</text>
<rect class="sw" x="415" y="59.3" width="9" height="6" fill="#ffc0c0"/><text class="lg" x="429" y="65.3">Bacteroidetes</text>
<rect class="sw" x="415" y="69.7" width="9" height="6" fill="#00ff00"/><text class="lg" x="429" y="75.7">Betaproteobacteria</text>
<rect class="sw" x="415" y="80" width="9" height="6" fill="#ff8000"/><text class="lg" x="429" y="86">Chloroflexi</text>
<rect class="sw" x="415" y="90.3" width="9" height="6" fill="#80ff80"/><text class="lg" x="429" y="96.3">Cyanobacteria</text>
<rect class="sw" x="415" y="100.7" width="9" height="6" fill="#ffff00"/><text class="lg" x="429" y="106.7">Deltaproteobacteria</text>
<rect class="sw" x="415" y="111" width="9" height="6" fill="#8080ff"/><text class="lg" x="429" y="117">Firmicutes</text>
<rect class="sw" x="415" y="121.3" width="9" height="6" fill="#800080"/><text class="lg" x="429" y="127.3">Gammaproteobacteria</text>
<rect class="sw" x="415" y="131.7" width="9" height="6" fill="#ff0000"/><text class="lg" x="429" y="137.7">Gemmatimonadetes</text>
<rect class="sw" x="415" y="142" width="9" height="6" fill="#ff8080"/><text class="lg" x="429" y="148">Nitrospirae</text>
<rect class="sw" x="415" y="152.3" width="9" height="6" fill="#808000"/><text class="lg" x="429" y="158.3">Planctomycetes</text>
<rect class="sw" x="415" y="162.7" width="9" height="6" fill="#008080"/><text class="lg" x="429" y="168.7">Verrucomicrobia</text>
<rect class="sw" x="415" y="173" width="9" height="6" fill="#006400"/><text class="lg" x="429" y="179">Unclassified</text>
</g>

<!-- Fungi legend -->
<g id="legend-fungi">
<rect class="bar" x="388" y="203" width="16" height="169"/>
<text class="bt" transform="translate(392,287) rotate(90)">Fungi</text>
<rect class="sw" x="415" y="227" width="9" height="6" fill="#ff00ff"/><text class="lg" x="429" y="233">Ascomycota</text>
<rect class="sw" x="415" y="253" width="9" height="6" fill="#00ffff"/><text class="lg" x="429" y="259">Basidiomycota</text>
<path class="sq" d="M429,260.5H480"/>
<rect class="sw" x="415" y="278" width="9" height="6" fill="#ff8000"/><text class="lg" x="429" y="284">Chytridiomycota</text>
<path class="sq" d="M429,285.5H488"/>
<rect class="sw" x="415" y="304" width="9" height="6" fill="#00ff00"/><text class="lg" x="429" y="310">Zygomycota</text>
<path class="sq" d="M429,311.5H473"/>
<rect class="sw" x="415" y="329" width="9" height="6" fill="#0000ff"/><text class="lg" x="429" y="335">Unclassified</text>
</g>
</svg>
